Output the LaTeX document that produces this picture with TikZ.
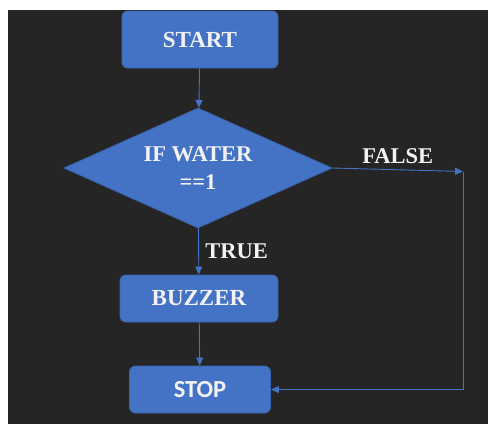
\documentclass[tikz,border=0pt]{standalone}
\usepackage{fontspec}
\setmainfont{Liberation Serif}
\newfontfamily\calfont{Carlito}
\usepackage{tikz}
\usetikzlibrary{shapes.geometric,positioning,arrows.meta}

\definecolor{bgdark}{HTML}{252525}
\definecolor{boxblue}{HTML}{4472C4}
\definecolor{boxedge}{HTML}{3A64AE}
\definecolor{txtwhite}{HTML}{F2F2F2}

\tikzset{
  block/.style={rectangle, rounded corners=6pt, fill=boxblue, draw=boxedge,
    text=txtwhite, font=\fontsize{23}{26}\selectfont\bfseries, inner sep=0pt},
  decision/.style={diamond, aspect=2.233, fill=boxblue, draw=boxedge, text=txtwhite,
    font=\fontsize{22.5}{28}\selectfont\bfseries, align=center, inner sep=0pt,
    minimum width=268pt, minimum height=120pt},
  lbl/.style={text=txtwhite, font=\fontsize{22.5}{26}\selectfont\bfseries}
}

\begin{document}
\begin{tikzpicture}[x=1pt,y=1pt,on grid,
  >={Triangle[length=8pt,width=7pt]}, line width=0.9pt]
\useasboundingbox (0,0) rectangle (488,-424);
\fill[bgdark] (8,-10) rectangle (488,-424);

\node[block, minimum width=156pt, minimum height=57pt] (start) at (200,-39.5) {START};
\node[decision] (dec) [below=128.5pt of start, xshift=-2pt] {IF WATER\\==1};
\node[block, minimum width=158pt, minimum height=47pt] (buzzer) [below=130.5pt of dec, xshift=1pt] {BUZZER};
\node[block, minimum width=141pt, minimum height=47pt, font=\fontsize{24.5}{28}\calfont\bfseries] (stop) [below=91pt of buzzer, xshift=1pt] {STOP};
\coordinate (fcorner) at (463,-171.5);

\path[->, color=boxblue]
(start) edge (dec)
(dec) edge node[lbl, right, xshift=3pt] {TRUE} (buzzer)
(buzzer) edge (stop)
(dec.east) edge node[lbl, above, yshift=2pt] {FALSE} (fcorner)
(fcorner) edge [to path={|- (\tikztotarget)}] (stop.east)
; %end path
\end{tikzpicture}
\end{document}
